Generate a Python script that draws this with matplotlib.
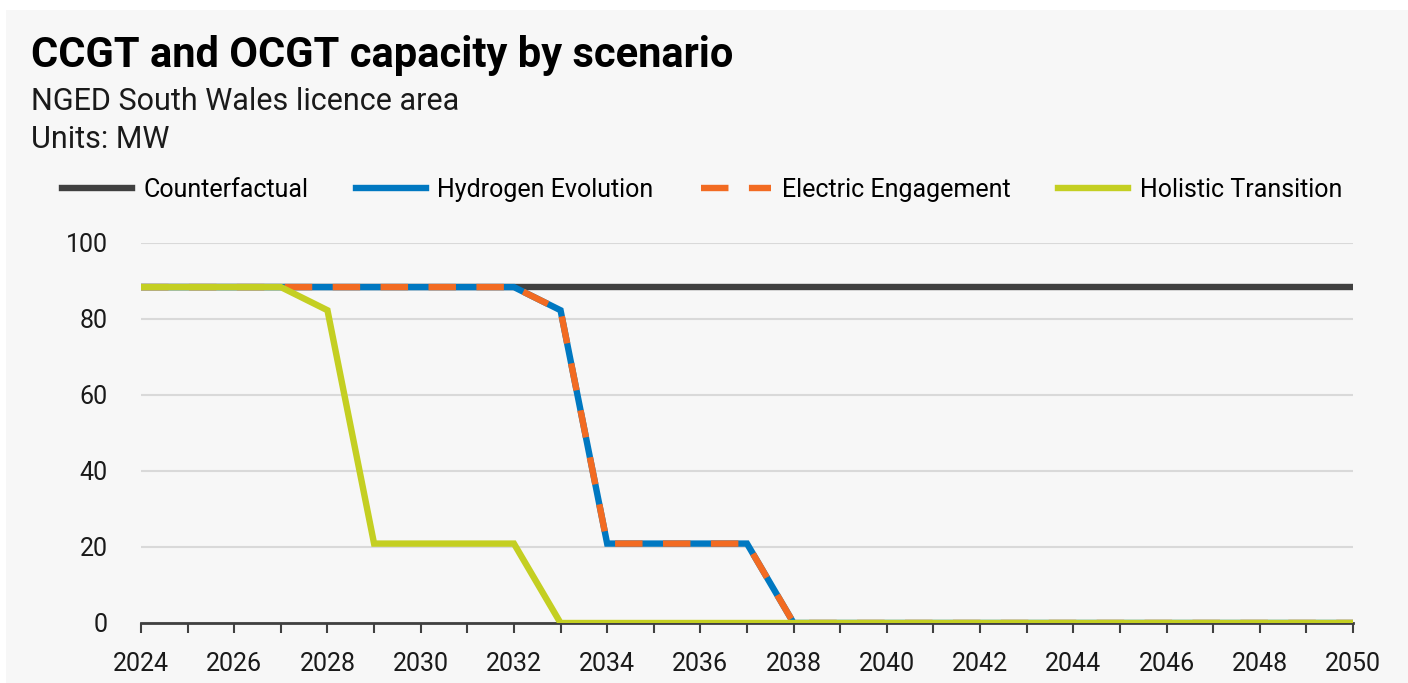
import numpy as np
import matplotlib.pyplot as plt
from matplotlib.patches import Rectangle

years = list(range(2024, 2051))
counterfactual = [88.4] * 27
hydrogen_evolution = [88.4] * 9 + [82.3] + [20.9] * 4 + [0.0] * 13
electric_engagement = [88.4] * 9 + [82.3] + [20.9] * 4 + [0.0] * 13
holistic_transition = [88.4] * 4 + [82.3] + [20.9] * 4 + [0.0] * 18

plt.rcParams['font.family'] = ['Roboto', 'DejaVu Sans']

fig = plt.figure(figsize=(14.08, 6.83), dpi=100)
fig.patch.set_facecolor('white')
fig.add_artist(Rectangle((6 / 1408, 0), 1, 1 - 10 / 683, transform=fig.transFigure,
                         facecolor='#f7f7f7', edgecolor='none', zorder=-10))

ax = fig.add_axes([141 / 1408, 60 / 683, (1353 - 141) / 1408, (623 - 243) / 683])
ax.set_facecolor('none')

lw = 4.6
ax.plot(years, counterfactual, color='#404040', lw=lw, label='Counterfactual',
        solid_joinstyle='miter', zorder=3)
ax.plot(years, hydrogen_evolution, color='#0078c1', lw=lw, label='Hydrogen Evolution',
        solid_joinstyle='miter', zorder=4)
ax.plot(years, electric_engagement, color='#f26b22', lw=lw, label='Electric Engagement',
        dashes=(4.3, 3.2), dash_capstyle='butt', zorder=5)
ax.plot(years, holistic_transition, color='#c4cf22', lw=lw, label='Holistic Transition',
        solid_joinstyle='miter', zorder=6)

ax.set_xlim(2024, 2050)
ax.set_ylim(0, 100)
ax.set_xticks(range(2024, 2051, 2))
ax.set_xticks(years, minor=True)
ax.set_yticks(range(0, 101, 20))
ax.tick_params(axis='x', which='both', length=7, width=1.5, color='#404040',
               direction='out', pad=14, labelsize=18, labelcolor='#1a1a1a')
ax.tick_params(axis='y', length=0, pad=24, labelsize=18, labelcolor='#1a1a1a')
ax.grid(axis='y', color='#d9d9d9', lw=1.5, zorder=0)
for side in ['top', 'right', 'left']:
    ax.spines[side].set_visible(False)
ax.spines['bottom'].set_color('#404040')
ax.spines['bottom'].set_linewidth(2)
ax.spines['bottom'].set_zorder(2)

fig.text(31 / 1408, 1 - 56 / 683, 'CCGT and OCGT capacity by scenario', fontsize=30,
         fontweight='bold', va='center', ha='left', color='black')
fig.text(31 / 1408, 1 - 101 / 683, 'NGED South Wales licence area', fontsize=22,
         va='center', ha='left', color='#1a1a1a')
fig.text(31 / 1408, 1 - 139 / 683, 'Units: MW', fontsize=22,
         va='center', ha='left', color='#1a1a1a')

fig.legend(loc='center', bbox_to_anchor=(702 / 1408, 1 - 190 / 683), ncol=4, frameon=False,
           fontsize=18, handlelength=2.8, handletextpad=0.45, columnspacing=1.9)

fig.savefig('out.png', dpi=100, facecolor=fig.get_facecolor())
